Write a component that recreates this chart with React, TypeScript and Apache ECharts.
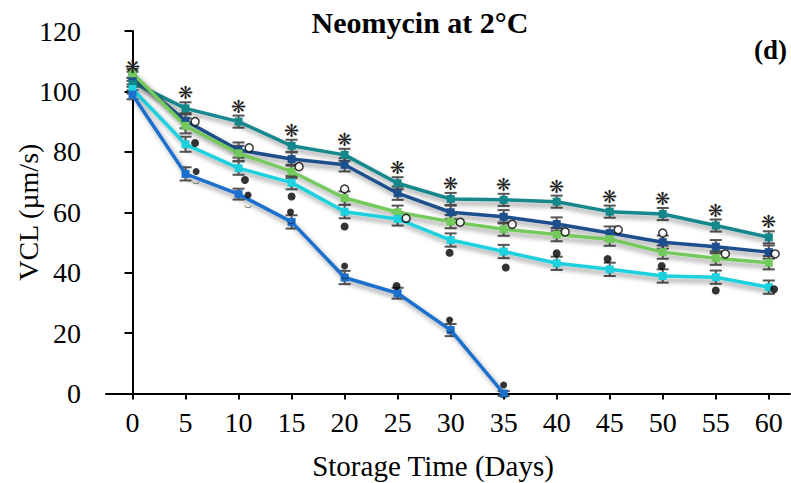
import React, { useEffect, useRef } from "react";
import * as echarts from "echarts";

// Storage day for every measurement
const days = [0, 5, 10, 15, 20, 25, 30, 35, 40, 45, 50, 55, 60];
const xTicks = [0, 5, 10, 15, 20, 25, 30, 35, 40, 45, 50, 55, 60];

// Mean VCL (µm/s) per treatment
const tealVals = [103, 94.4, 90, 82, 79, 69.6, 64.4, 64.1, 63.5, 60.2, 59.4, 55.6, 51.7];
const navyVals = [105, 90.3, 80.6, 77.6, 75.7, 66.3, 60, 58.5, 56.1, 53.1, 50.1, 48.6, 46.8];
const greenVals = [106, 88.6, 79.5, 73.5, 64.7, 60, 56.9, 54.4, 52.6, 51.1, 46.8, 44.8, 43.3];
const cyanVals = [100.8, 82.5, 74.6, 69.8, 60.2, 57.8, 50.8, 47, 43.1, 41.1, 38.9, 38.5, 35.2];
const blueVals = [98.9, 72.7, 66, 56.8, 38.4, 33.2, 21, 0];

// Standard errors
const tealErr = [1.5, 2, 2, 2, 2, 2, 2, 2, 2, 2, 2, 2, 2];
const navyErr = [1.5, 2.5, 2.5, 2.2, 2.2, 2.2, 2.2, 2.2, 2.2, 2.2, 2.2, 2.2, 2.2];
const greenErr = [1.5, 2.5, 2.5, 2.2, 2.2, 2.2, 2.2, 2.2, 2.2, 2.2, 2.2, 2.2, 2.2];
const cyanErr = [1.5, 2.5, 2.2, 2.2, 2.2, 2.2, 2.2, 2.2, 2.2, 2.2, 2.2, 2.2, 2.2];
const blueErr = [1.5, 2.2, 1.8, 2.2, 2.2, 1.8, 2, 0.8];

// Significance marks, placed in data coordinates [day, VCL]
const openMarks = [
  [5.9, 90], [11, 81.3], [15.7, 75.1], [20, 67.7], [25.8, 58], [30.9, 56.7],
  [35.8, 56], [40.8, 53.5], [45.8, 54.2], [50, 53.1], [55.9, 46.2], [60.6, 46.2],
];
const filledMarks = [
  [5.9, 82.9], [10.6, 70.7], [15, 65.2], [20, 55.3], [24.9, 35.6], [29.9, 46.6],
  [35.2, 41.7], [40, 46.4], [44.8, 44.5], [49.9, 42.2], [55, 34.1], [60.5, 34.5],
];
const blueMarks = [
  [6, 73.5], [10.9, 65.7], [14.9, 60.1], [20, 42.2], [29.9, 24.3], [35, 2.8],
];

const FONT = "'Liberation Serif', 'Times New Roman', serif";

function pairs(vals: number[]) {
  return vals.map((v, i) => [days[i], v]);
}

function errData(vals: number[], errs: number[]) {
  return vals.map((v, i) => [days[i], v, errs[i]]);
}

function errorSeries(vals: number[], errs: number[]) {
  return {
    type: "custom",
    data: errData(vals, errs),
    z: 1,
    renderItem: (params: any, api: any) => {
      const x = api.value(0);
      const y = api.value(1);
      const e = api.value(2);
      const top = api.coord([x, y + e]);
      const bot = api.coord([x, y - e]);
      const w = 6;
      const style = { stroke: "#555555", lineWidth: 2 };
      return {
        type: "group",
        children: [
          { type: "line", shape: { x1: top[0], y1: top[1], x2: bot[0], y2: bot[1] }, style },
          { type: "line", shape: { x1: top[0] - w, y1: top[1], x2: top[0] + w, y2: top[1] }, style },
          { type: "line", shape: { x1: bot[0] - w, y1: bot[1], x2: bot[0] + w, y2: bot[1] }, style },
        ],
      };
    },
  };
}

function lineSeries(name: string, vals: number[], color: string, extra: any = {}) {
  return {
    name,
    type: "line",
    data: pairs(vals),
    symbol: "rect",
    symbolSize: 8,
    z: 3,
    itemStyle: { color },
    lineStyle: {
      color,
      width: 3.5,
      shadowColor: "rgba(0,0,0,0.4)",
      shadowBlur: 5,
      shadowOffsetX: 3,
      shadowOffsetY: 4,
    },
    ...extra,
  };
}

export default function App() {
  const ref = useRef<HTMLDivElement>(null);

  useEffect(() => {
    if (!ref.current) return;
    const chart = echarts.init(ref.current, null, { renderer: "svg" });
    chart.setOption({
      animation: false,
      backgroundColor: "#ffffff",
      textStyle: { fontFamily: FONT },
      title: [
        {
          text: "Neomycin at 2°C",
          left: 415,
          top: 2,
          textAlign: "center",
          textStyle: { fontFamily: FONT, fontSize: 30, fontWeight: "bold", color: "#000" },
        },
        {
          text: "(d)",
          left: 749,
          top: 31,
          textStyle: { fontFamily: FONT, fontSize: 27, fontWeight: "bold", color: "#000" },
        },
      ],
      graphic: [
        {
          type: "text",
          x: 433,
          y: 466,
          style: {
            text: "Storage Time (Days)",
            fontFamily: FONT,
            fontSize: 29,
            fill: "#000",
            textAlign: "center",
            textVerticalAlign: "middle",
          },
        },
      ],
      grid: { left: 106, right: 1, top: 31, bottom: 89.5, outerBoundsMode: "none", containLabel: false },
      xAxis: {
        type: "value",
        min: -2.5,
        max: 62,
        splitLine: { show: false },
        axisLine: { lineStyle: { color: "#000", width: 2 } },
        axisTick: { customValues: xTicks, length: 6, lineStyle: { color: "#000", width: 2 } },
        axisLabel: {
          customValues: xTicks,
          fontFamily: FONT,
          fontSize: 28,
          color: "#000",
          margin: 15,
        },
      },
      yAxis: {
        type: "value",
        min: 0,
        max: 120,
        interval: 20,
        name: "VCL (µm/s)",
        nameLocation: "middle",
        nameGap: 64,
        nameMoveOverlap: false,
        nameTextStyle: { fontFamily: FONT, fontSize: 28, color: "#000" },
        splitLine: { show: false },
        axisLine: { show: true, lineStyle: { color: "#000", width: 2 } },
        axisTick: { show: true, length: 8, lineStyle: { color: "#000", width: 2 } },
        axisLabel: { fontFamily: FONT, fontSize: 28, color: "#000", margin: 25 },
      },
      series: [
        errorSeries(tealVals, tealErr),
        errorSeries(navyVals, navyErr),
        errorSeries(greenVals, greenErr),
        errorSeries(cyanVals, cyanErr),
        errorSeries(blueVals, blueErr),
        lineSeries("Group A", tealVals, "#14878a", {
          label: {
            show: true,
            position: "top",
            distance: 2,
            formatter: "❋",
            fontSize: 18,
            color: "#222",
          },
        }),
        lineSeries("Group B", navyVals, "#1d4f8c"),
        lineSeries("Group C", greenVals, "#74c95c"),
        lineSeries("Group D", cyanVals, "#1dd0de"),
        lineSeries("Group E", blueVals, "#1a70cc"),
        {
          type: "scatter",
          data: openMarks,
          symbol: "circle",
          symbolSize: 8,
          z: 5,
          itemStyle: { color: "#ffffff", borderColor: "#000", borderWidth: 1.5 },
        },
        {
          type: "scatter",
          data: filledMarks,
          symbol: "circle",
          symbolSize: 8,
          z: 5,
          itemStyle: { color: "#000" },
        },
        {
          type: "scatter",
          data: blueMarks,
          symbol: "circle",
          symbolSize: 7,
          z: 5,
          itemStyle: { color: "#000" },
          label: {
            show: true,
            position: "bottom",
            distance: -5,
            formatter: "‿",
            fontSize: 13,
            color: "#000",
          },
        },
      ],
    });
    return () => chart.dispose();
  }, []);

  return (
    <div
      ref={ref}
      style={{ position: "absolute", left: 0, top: 0, width: 791, height: 483, background: "#fff" }}
    />
  );
}
